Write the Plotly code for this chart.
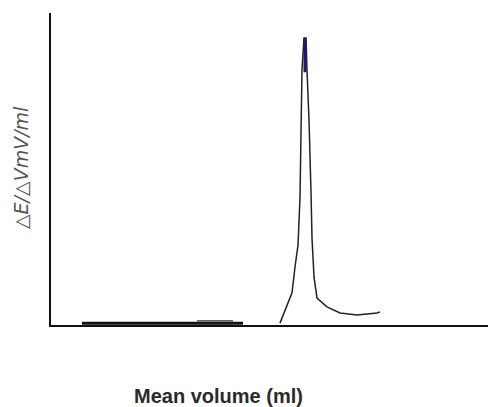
import plotly.graph_objects as go

# Titration derivative curve (arbitrary units)
base_x = [1.55, 7.3, 9.1, 9.6]
base_y = [0.6, 0.6, 0.6, 0.6]
hollow_x = [7.3, 9.1]
hollow_top = [1.3, 1.3]
hollow_bot = [0.3, 0.3]
peak_x = [11.45, 12.05, 12.2, 12.35, 12.45, 12.55, 12.65, 12.75, 12.8, 12.9, 13.0, 13.05, 13.15, 13.3, 13.8, 14.45, 15.3, 16.3, 16.45]
peak_y = [0.6, 10.3, 18.6, 25.6, 41.0, 81.7, 92.0, 92.0, 81.7, 65.7, 42.6, 27.9, 15.4, 8.65, 5.8, 3.85, 3.2, 3.85, 4.2]
top_x = [12.7, 12.7]
top_y = [81.0, 92.0]

fig = go.Figure()
fig.add_trace(go.Scatter(x=base_x, y=base_y, mode="lines",
                         line=dict(color="#111111", width=3), hoverinfo="skip"))
fig.add_trace(go.Scatter(x=hollow_x, y=hollow_top, mode="lines",
                         line=dict(color="#333333", width=1.2), hoverinfo="skip"))
fig.add_trace(go.Scatter(x=hollow_x, y=hollow_bot, mode="lines",
                         line=dict(color="#333333", width=1.2), hoverinfo="skip"))
fig.add_trace(go.Scatter(x=peak_x, y=peak_y, mode="lines",
                         line=dict(color="#222222", width=1.5), hoverinfo="skip"))
fig.add_trace(go.Scatter(x=top_x, y=top_y, mode="lines",
                         line=dict(color="#1c1c6e", width=3), hoverinfo="skip"))

fig.update_layout(
    width=488, height=407,
    margin=dict(l=51, r=0, t=13, b=82),
    paper_bgcolor="white", plot_bgcolor="white",
    showlegend=False,
    xaxis=dict(range=[0, 21.85], showgrid=False, zeroline=False, showticklabels=False,
               ticks="", showline=True, linecolor="#111111", linewidth=2),
    yaxis=dict(range=[0, 100], showgrid=False, zeroline=False, showticklabels=False,
               ticks="", showline=True, linecolor="#111111", linewidth=2),
    annotations=[
        dict(text="<b>Mean volume (ml)</b>", xref="paper", yref="paper",
             x=(218 - 51) / 437, y=-(396 - 325) / 312, xanchor="center", yanchor="middle",
             showarrow=False, font=dict(family="Liberation Sans, Arial", size=20, color="#2a2a2a")),
        dict(text="<i>△E/△VmV/ml</i>", xref="paper", yref="paper",
             x=-(51 - 21) / 437, y=(325 - 168) / 312, xanchor="center", yanchor="middle",
             textangle=-90, showarrow=False,
             font=dict(family="DejaVu Sans", size=19, color="#555555")),
    ],
)

fig.write_html("out.html", config={"displayModeBar": False},
               post_script="document.body.style.margin='0';document.body.style.overflow='hidden';")
